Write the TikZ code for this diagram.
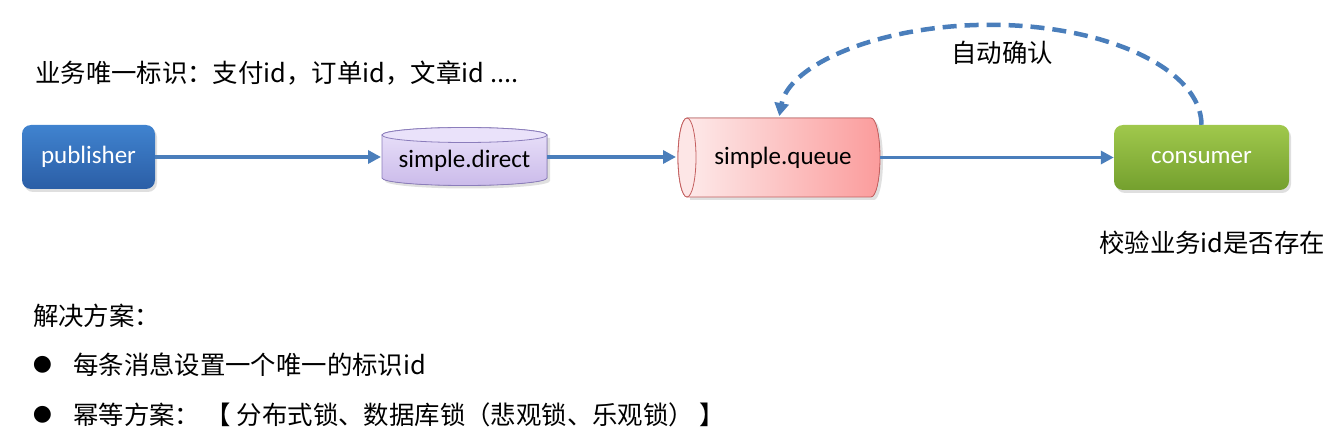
\documentclass[tikz,border=0pt]{standalone}
\usepackage{fontspec}
\setmainfont{Noto Sans CJK SC}
\newfontfamily\latfont{Carlito}
\newfontfamily\symfont{DejaVu Sans}
\usetikzlibrary{arrows.meta,shadows}
\definecolor{arrowblue}{HTML}{4A7EBB}
\definecolor{pubtop}{HTML}{4083CF}
\definecolor{pubbot}{HTML}{2B5EA6}
\definecolor{contop}{HTML}{A0C84C}
\definecolor{conbot}{HTML}{74A02E}
\definecolor{dirtop}{HTML}{EAE2FA}
\definecolor{dirbot}{HTML}{CBBBEA}
\definecolor{dirline}{HTML}{8B7DBB}
\definecolor{qleft}{HTML}{FDEDED}
\definecolor{qright}{HTML}{FB9C9C}
\definecolor{qline}{HTML}{C45F5F}
\definecolor{qface}{HTML}{FDE6E6}
\begin{document}
\begin{tikzpicture}[x=1pt,y=-1pt,
  every node/.style={inner sep=0pt},
  boxnode/.style={rounded corners=9pt, minimum width=175pt, minimum height=65pt,
    text=white, font=\latfont\fontsize{25}{30}\selectfont,
    drop shadow={opacity=0.25, shadow xshift=2pt, shadow yshift=-3pt}},
  shapetext/.style={font=\latfont\fontsize{25}{30}\selectfont},
  flow/.style={draw=arrowblue, line width=3.5pt, -{Triangle[length=13pt,width=13pt]}},
  ack/.style={draw=arrowblue, line width=4.5pt, dash pattern=on 14pt off 8pt,
    -{Triangle[length=13pt,width=14pt]}},
  cjk/.style={font=\fontsize{25.4}{30}\selectfont},
  bullet/.style={font=\symfont\fontsize{22}{26}\selectfont}
]
\useasboundingbox (0,0) rectangle (1334,433);

% publisher
\node[boxnode, top color=pubtop, bottom color=pubbot, minimum width=133pt, minimum height=64pt]
  (pub) at (88.5,157) {publisher};

% simple.direct cylinder (vertical axis)
\fill[black, opacity=0.12] (385,138) -- (385,181) arc[start angle=180,end angle=0,x radius=82.5,y radius=7.5] -- (550,138) -- cycle;
\filldraw[draw=dirline, line width=0.8pt, top color=dirtop, bottom color=dirbot]
  (382,135) -- (382,178) arc[start angle=180,end angle=0,x radius=82.5,y radius=7.5]
  -- (547,135) arc[start angle=0,end angle=-180,x radius=82.5,y radius=7.5] -- cycle;
\filldraw[draw=dirline, line width=0.8pt, fill=dirtop] (464.5,135) ellipse[x radius=82.5, y radius=7.5];
\node[shapetext, minimum width=165pt, minimum height=50pt] (direct) at (464.5,161) {simple.direct};

% simple.queue cylinder (horizontal axis)
\fill[black, opacity=0.12] (690,121) -- (874,121) arc[start angle=-90,end angle=90,x radius=9,y radius=39.5] -- (690,200) -- cycle;
\filldraw[draw=qline, line width=0.8pt, left color=qleft, right color=qright]
  (687,118) -- (871,118) arc[start angle=-90,end angle=90,x radius=9,y radius=39.5]
  -- (687,197) arc[start angle=90,end angle=270,x radius=9,y radius=39.5] -- cycle;
\filldraw[draw=qline, line width=0.8pt, fill=qface] (687,157.5) ellipse[x radius=9, y radius=39.5];
\node[shapetext, minimum width=184pt, minimum height=79pt] (queue) at (783,158) {simple.queue};

% consumer
\node[boxnode, top color=contop, bottom color=conbot, minimum width=175pt, minimum height=65pt]
  (cons) at (1201.5,157.5) {consumer};

% flow arrows
\draw[flow] (pub.east) -- (pub.east -| 381,0);
\draw[flow] (547,157) -- (676,157);
\draw[flow] (880,157.5) -- (cons.west);

% automatic ack
\draw[ack] (cons.north) arc[start angle=0,end angle=-175,x radius=211.5,y radius=100];
\node[cjk] (acklbl) at (1002,53) {自动确认};

% texts
\node[cjk, anchor=west] (bizid) at (35,73) {业务唯一标识：支付id，订单id，文章id ....};
\node[cjk, anchor=west] (check) at (1099,243) {校验业务id是否存在};
\node[cjk, anchor=west] (sol) at (33,316) {解决方案：};
\node[bullet] (b1) at (42.5,365) {●};
\node[cjk, anchor=west] (t1) at (73,365) {每条消息设置一个唯一的标识id};
\node[bullet] (b2) at (42.5,415) {●};
\node[cjk, anchor=west] (t2) at (73,415) {幂等方案： 【 分布式锁、数据库锁（悲观锁、乐观锁） 】};
\end{tikzpicture}
\end{document}
